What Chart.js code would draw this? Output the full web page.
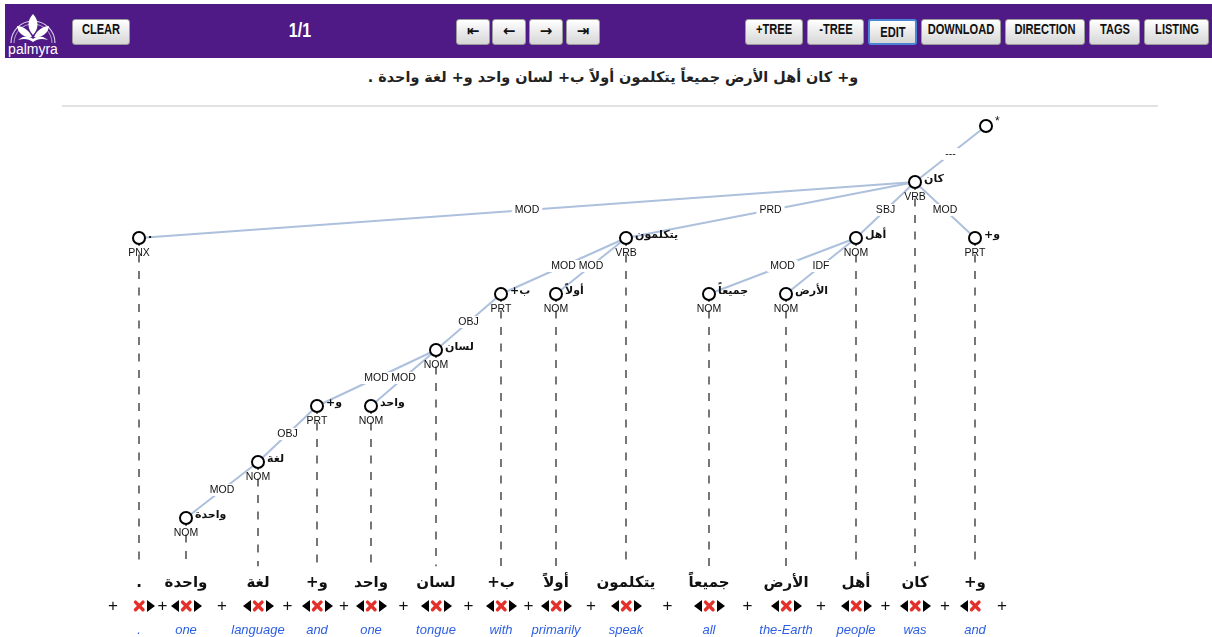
<!DOCTYPE html>
<html>
<head>
<meta charset="utf-8">
<script src="https://cdn.jsdelivr.net/npm/chart.js@4.4.0/dist/chart.umd.min.js"></script>
<style>
    body { margin: 0; width: 1212px; height: 637px; overflow: hidden; background: #fff; position: relative;
           font-family: "Liberation Sans", Arial, sans-serif; }
    #bar { position: absolute; left: 5px; top: 4px; width: 1207px; height: 54px; background: #4f1a86; }
    .btn { position: absolute; top: 15px; height: 26px; box-sizing: border-box; border: 1px solid #9a9a9a;
           border-radius: 3px; background: linear-gradient(#ffffff, #d6d6d6); color: #111; text-align: center;
           line-height: 24px; font: bold 15px "Liberation Sans", Arial, sans-serif; white-space: nowrap; }
    .btn span { position: absolute; left: 50%; top: 0; transform: translateX(-50%) scaleX(0.74); }
    .btn.nav { font: bold 15px "DejaVu Sans", sans-serif; line-height: 23px; }
    .btn.active { border: 2px solid #4a86d6; line-height: 22px; }
    #page { position: absolute; left: 270px; top: 15px; width: 50px; text-align: center; color: #fff;
            font: bold 20px "Liberation Sans", Arial, sans-serif; }
    #page span { display: inline-block; transform: scaleX(0.8); }
    #sentence { position: absolute; left: 0; top: 69px; width: 1226px; text-align: center; direction: rtl;
                font: bold 14.4px "DejaVu Sans", sans-serif; color: #222; }
    #rule { position: absolute; left: 62px; top: 105px; width: 1096px; height: 2px; background: #e2e2e2; }
    #wrap { position: absolute; left: 0; top: 60px; width: 1212px; height: 577px; }
</style>
</head>
<body>
<div id="bar">
    <svg width="54" height="52" viewBox="0 0 54 52" style="position:absolute;left:1px;top:1px">
        <path d="M5 38 A22 22 0 0 1 49 38" fill="none" stroke="#fff" stroke-width="1.2" opacity="0.8"/>
        <path d="M8 38 A19 19 0 0 1 46 38" fill="none" stroke="#fff" stroke-width="1" opacity="0.6"/>
        <path d="M27 9 C21 15 21 24 27 30 C33 24 33 15 27 9 Z" fill="#fff"/>
        <path d="M11 21 C12 29 19 33 26 32 C23 25 17 21 11 21 Z" fill="#fff"/>
        <path d="M43 21 C42 29 35 33 28 32 C31 25 37 21 43 21 Z" fill="#fff"/>
        <path d="M12 35 C18 30 24 31 27 34 C30 31 36 30 42 35 C36 33 31 34 27 37 C23 34 18 33 12 35 Z" fill="#fff"/>
        <text x="27" y="49" text-anchor="middle" fill="#fff" font-size="14" font-family="Liberation Sans, Arial">palmyra</text>
    </svg>
    <div class="btn" style="left:67px;width:58px"><span>CLEAR</span></div>
    <div id="page"><span>1/1</span></div>
    <div class="btn nav" style="left:451px;width:34px">&#8676;</div>
    <div class="btn nav" style="left:487px;width:34px">&#8592;</div>
    <div class="btn nav" style="left:524px;width:34px">&#8594;</div>
    <div class="btn nav" style="left:561px;width:34px">&#8677;</div>
    <div class="btn" style="left:740px;width:58px"><span>+TREE</span></div>
    <div class="btn" style="left:802px;width:57px"><span>-TREE</span></div>
    <div class="btn active" style="left:863px;width:49px"><span>EDIT</span></div>
    <div class="btn" style="left:916px;width:80px"><span>DOWNLOAD</span></div>
    <div class="btn" style="left:1000px;width:80px"><span>DIRECTION</span></div>
    <div class="btn" style="left:1084px;width:51px"><span>TAGS</span></div>
    <div class="btn" style="left:1139px;width:65px"><span>LISTING</span></div>
</div>
<div id="sentence"></div>
<div id="rule"></div>
<div id="wrap"><canvas id="tree" width="1212" height="577"></canvas></div>

<script>
// Mots de la phrase, de gauche à droite sur l'écran
const words     = ['.', 'واحدة', 'لغة', 'و+', 'واحد', 'لسان', 'ب+', 'أولاً', 'يتكلمون', 'جميعاً', 'الأرض', 'أهل', 'كان', 'و+'];
const tags      = ['PNX', 'NOM', 'NOM', 'PRT', 'NOM', 'NOM', 'PRT', 'NOM', 'VRB', 'NOM', 'NOM', 'NOM', 'VRB', 'PRT'];
const glosses   = ['.', 'one', 'language', 'and', 'one', 'tongue', 'with', 'primarily', 'speak', 'all', 'the-Earth', 'people', 'was', 'and'];
// tête de chaque mot (-1 = racine *)
const heads     = [12, 2, 3, 5, 5, 6, 8, 8, 12, 11, 11, 12, -1, 12];
const relations = ['MOD', 'MOD', 'OBJ', 'MOD', 'MOD', 'OBJ', 'MOD', 'MOD', 'PRD', 'MOD', 'IDF', 'SBJ', '---', 'MOD'];
const depths    = [2, 7, 6, 5, 5, 4, 3, 3, 2, 3, 3, 2, 1, 2];
const columnX   = [139, 186, 258, 317, 371, 436, 501, 556, 626, 709, 786, 856, 915, 975];
const rootX = 986;
const rootLabel = '*';

// lignes du bas (en niveaux de l'axe y)
const trunkEnd = 7.86;
const wordRow = 8.16;
const controlRow = 8.57;
const glossRow = 9.0;

const RLM = '\u200F';

document.getElementById('sentence').textContent = words.slice().reverse().join(' ');

function headPoint(i) {
    if (heads[i] < 0) return { x: rootX, y: 0 };
    return { x: columnX[heads[i]], y: depths[heads[i]] };
}

const datasets = [];

// noeuds
datasets.push({
    data: [{ x: rootX, y: 0 }].concat(columnX.map((cx, i) => ({ x: cx, y: depths[i] }))),
    showLine: false,
    pointRadius: 6,
    pointBackgroundColor: '#fff',
    pointBorderColor: '#000',
    pointBorderWidth: 2,
    order: 0
});

// arcs de dépendance
words.forEach((w, i) => {
    datasets.push({
        data: [{ x: columnX[i], y: depths[i] }, headPoint(i)],
        showLine: true,
        borderColor: '#adc0dc',
        borderWidth: 2,
        pointRadius: 0,
        order: 1
    });
});

// traits verticaux en pointillés
words.forEach((w, i) => {
    datasets.push({
        data: [{ x: columnX[i], y: depths[i] }, { x: columnX[i], y: trunkEnd }],
        showLine: true,
        borderColor: '#555',
        borderWidth: 1.6,
        borderDash: [8, 8.5],
        pointRadius: 0,
        order: 2
    });
});

function triangle(ctx, cx, cy, dir) {
    ctx.beginPath();
    ctx.moveTo(cx + dir * 4, cy);
    ctx.lineTo(cx - dir * 4, cy - 6);
    ctx.lineTo(cx - dir * 4, cy + 6);
    ctx.closePath();
    ctx.fill();
}

const treeLabels = {
    id: 'treeLabels',
    afterDatasetsDraw(chart) {
        const { ctx, scales: { x, y } } = chart;
        ctx.save();
        ctx.direction = 'ltr';

        // étiquettes des relations
        ctx.font = '10.5px "Liberation Sans", Arial, sans-serif';
        ctx.textAlign = 'center';
        ctx.textBaseline = 'middle';
        words.forEach((w, i) => {
            const h = headPoint(i);
            const mx = x.getPixelForValue((columnX[i] + h.x) / 2);
            const my = y.getPixelForValue((depths[i] + h.y) / 2);
            const tw = ctx.measureText(relations[i]).width;
            ctx.fillStyle = '#fff';
            ctx.fillRect(mx - tw / 2 - 3, my - 6, tw + 6, 12);
            ctx.fillStyle = '#111';
            ctx.fillText(relations[i], mx, my);
        });

        // étiquettes POS sous les noeuds
        ctx.font = '10.5px "Liberation Sans", Arial, sans-serif';
        words.forEach((w, i) => {
            ctx.fillText(tags[i], x.getPixelForValue(columnX[i]), y.getPixelForValue(depths[i]) + 15);
        });

        // mots à droite des noeuds (ordre droite-à-gauche)
        ctx.font = 'bold 11px "DejaVu Sans", sans-serif';
        ctx.textAlign = 'left';
        words.forEach((w, i) => {
            ctx.fillText(RLM + w + RLM, x.getPixelForValue(columnX[i]) + 9, y.getPixelForValue(depths[i]) - 3);
        });
        ctx.font = '12px "Liberation Sans", Arial, sans-serif';
        ctx.fillText(rootLabel, x.getPixelForValue(rootX) + 9, y.getPixelForValue(0) - 4);

        // ligne des mots
        ctx.textAlign = 'center';
        ctx.font = 'bold 15px "DejaVu Sans", sans-serif';
        ctx.fillStyle = '#111';
        words.forEach((w, i) => {
            ctx.fillText(RLM + w + RLM, x.getPixelForValue(columnX[i]), y.getPixelForValue(wordRow));
        });

        // contrôles ◀ ✖ ▶ et +
        const cy = y.getPixelForValue(controlRow);
        ctx.font = '17px "Liberation Sans", Arial, sans-serif';
        const plusX = [columnX[0] - 26];
        for (let i = 0; i < columnX.length - 1; i++) plusX.push((columnX[i] + columnX[i + 1]) / 2);
        plusX.push(columnX[columnX.length - 1] + 27);
        plusX.forEach(px => ctx.fillText('+', x.getPixelForValue(px), cy));

        columnX.forEach((cx, i) => {
            const px = x.getPixelForValue(cx);
            ctx.fillStyle = '#000';
            if (i > 0) triangle(ctx, px - 11, cy, -1);
            if (i < columnX.length - 1) triangle(ctx, px + 12, cy, 1);
            ctx.strokeStyle = '#e4302a';
            ctx.lineWidth = 3.4;
            ctx.lineCap = 'round';
            ctx.beginPath();
            ctx.moveTo(px - 3.5, cy - 3.8); ctx.lineTo(px + 4, cy + 3.8);
            ctx.moveTo(px + 4, cy - 3.8); ctx.lineTo(px - 3.5, cy + 3.8);
            ctx.stroke();
        });

        // gloses anglaises
        ctx.font = 'italic 13px "Liberation Sans", Arial, sans-serif';
        ctx.fillStyle = '#2c5fe3';
        glosses.forEach((g, i) => {
            ctx.fillText(g, x.getPixelForValue(columnX[i]), y.getPixelForValue(glossRow));
        });

        ctx.restore();
    }
};

new Chart(document.getElementById('tree').getContext('2d'), {
    type: 'scatter',
    data: { datasets: datasets },
    options: {
        responsive: false,
        animation: false,
        layout: { padding: 0, autoPadding: false },
        scales: {
            x: { type: 'linear', display: false, min: 0, max: 1212 },
            y: { type: 'linear', display: false, reverse: true, min: -66 / 56, max: 511 / 56 }
        },
        plugins: {
            legend: { display: false },
            tooltip: { enabled: false }
        },
        events: []
    },
    plugins: [treeLabels]
});
</script>
</body>
</html>
